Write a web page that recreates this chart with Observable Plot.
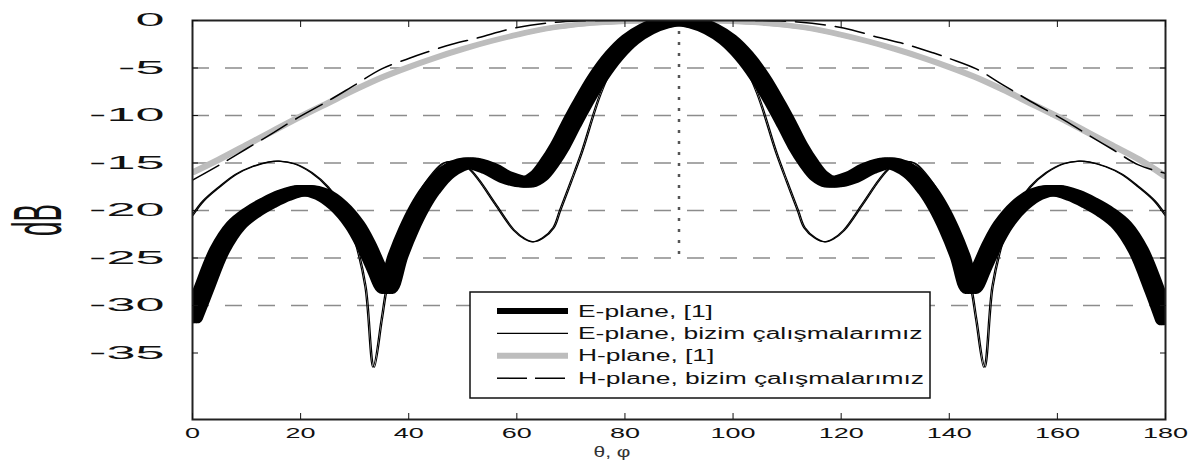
<!DOCTYPE html>
<html>
<head>
<meta charset="utf-8">
<script src="https://cdn.jsdelivr.net/npm/d3@7"></script>
<script src="https://cdn.jsdelivr.net/npm/@observablehq/plot@0.6"></script>
<style>
html, body { margin: 0; padding: 0; background: #fff; }
#wrap { position: relative; width: 1196px; height: 463px; font-family: "Liberation Sans", Arial, sans-serif; }
#wrap > svg { position: absolute; left: 0; top: 0; }
</style>
</head>
<body>
<div id="wrap"></div>
<script>
// ---------- data ----------
const thetaE1 = [0, 2, 5, 8, 11, 14, 17, 20.5, 24, 27, 30, 32, 34, 36, 38, 40, 42, 44, 47, 51, 55, 58, 62, 64, 66, 68, 70, 72, 75, 78, 81, 84, 87, 90,
  93, 96, 99, 102, 105, 108, 110, 112, 114, 116, 118, 122, 125, 129, 133, 136, 138, 140, 142, 144, 146, 148, 150, 153, 156, 159.5, 163, 166, 169, 172, 175, 178, 180];
const dbE1 = [-31.3, -28.4, -24.2, -21.6, -20.2, -19.2, -18.4, -17.9, -18.3, -19.5, -21.5, -23.5, -26, -28.2, -24.8, -22, -19.7, -17.9, -16, -15, -15.6, -16.5, -17, -16.4, -15, -13.2, -11, -8.9, -6.0, -3.7, -2.0, -0.9, -0.25, 0,
  -0.25, -0.9, -2.0, -3.7, -6.0, -8.9, -11, -13.2, -15, -16.4, -17, -16.5, -15.6, -15, -16, -17.9, -19.7, -22, -24.8, -28.2, -26, -23.5, -21.5, -19.5, -18.3, -17.9, -18.4, -19.2, -20.2, -21.6, -24.2, -28.4, -31.5];

const thetaE2 = [0, 2, 5, 8, 11, 14, 16, 19, 22, 25, 28, 30, 32, 33.5, 35, 36, 38, 40, 43, 46.5, 49, 51, 53, 56, 59.5, 61.5, 63, 64.8, 66.8, 68, 70, 72, 75.5, 78.6, 82.3, 86, 90,
  94, 97.7, 101.4, 104.5, 108, 110, 112, 113.2, 115.2, 117, 118.5, 120.5, 124, 127, 129, 131, 133.5, 137, 140, 142, 144, 145, 146.5, 148, 150, 152, 155, 158, 161, 164, 166, 169, 172, 175, 178, 180];
const dbE2 = [-20.5, -19, -17.5, -16.2, -15.4, -14.9, -14.8, -15.1, -16, -17.5, -20, -23, -28, -36.5, -31.5, -28, -24, -20.5, -17.2, -15, -14.9, -15.5, -16.8, -19.3, -22.1, -23.0, -23.3, -22.9, -21.8, -20, -17, -13.9, -7.7, -3.9, -1.4, -0.3, 0,
  -0.3, -1.4, -3.9, -7.7, -13.9, -17, -20, -21.8, -22.9, -23.3, -23.0, -22.1, -19.3, -16.8, -15.5, -14.9, -15, -17.2, -20.5, -24, -28, -31.5, -36.5, -28, -23, -20, -17.5, -16, -15.1, -14.8, -14.9, -15.4, -16.2, -17.5, -19, -20.5];

const thetaH1 = [0, 5, 10, 15, 19, 25, 30, 35, 40, 45, 50, 55, 60, 65, 70, 75, 80, 85, 90, 95, 100, 105, 110, 115, 120, 125, 130, 135, 140, 145, 150, 155, 161, 165, 170, 175, 180];
const dbH1 = [-16, -14.6, -13.1, -11.6, -10.4, -8.7, -7.3, -6.0, -4.9, -3.9, -3.0, -2.2, -1.5, -0.9, -0.5, -0.25, -0.1, -0.02, 0, -0.02, -0.1, -0.25, -0.5, -0.9, -1.5, -2.2, -3.0, -3.9, -4.9, -6.0, -7.3, -8.7, -10.4, -11.6, -13.1, -14.6, -16.4];

const thetaH2 = [0, 5, 10, 15, 19, 25, 30, 35, 40, 43, 48, 53, 58, 62.5, 68, 75, 90, 105, 112, 117.5, 122, 127, 132, 137, 140, 145, 150, 155, 161, 165, 170, 175, 180];
const dbH2 = [-16.8, -15.2, -13.5, -11.8, -10.4, -8.5, -6.8, -5.1, -4.0, -3.4, -2.5, -1.8, -1.0, -0.5, -0.15, 0, 0, 0, -0.15, -0.5, -1.0, -1.8, -2.5, -3.4, -4.0, -5.1, -6.8, -8.5, -10.4, -11.8, -13.5, -15.2, -16.1];

const xTicks = [0, 20, 40, 60, 80, 100, 120, 140, 160, 180];
const yTicks = [0, -5, -10, -15, -20, -25, -30, -35];
const gridValues = [-5, -10, -15, -20, -25, -30];
const xDomain = [0, 180];
const yDomain = [-42, 0];
const boresight = [{theta: 90, top: 0, bottom: -25}];
const xLabel = "θ, φ";
const yLabel = "dB";
const legendLabels = ["E-plane, [1]", "E-plane, bizim çalışmalarımız", "H-plane, [1]", "H-plane, bizim çalışmalarımız"];

// ---------- build ----------
const rows = (t, d) => t.map((v, i) => ({theta: v, db: d[i]}));
const e1 = rows(thetaE1, dbE1);
const e2 = rows(thetaE2, dbE2);
const h1 = rows(thetaH1, dbH1);
const h2 = rows(thetaH2, dbH2);

const FONT = '"Liberation Sans", Arial, Helvetica, sans-serif';
const CURVE = "catmull-rom";

const svg = Plot.plot({
  width: 1196,
  height: 463,
  marginLeft: 192,
  marginRight: 31,
  marginTop: 20,
  marginBottom: 44,
  style: {fontFamily: FONT, fontSize: "18px", color: "#111", background: "transparent", overflow: "visible"},
  x: {domain: xDomain, label: null},
  y: {domain: yDomain, label: null},
  marks: [
    Plot.gridY(gridValues, {stroke: "#8c8c8c", strokeOpacity: 1, strokeWidth: 1.5, strokeDasharray: "17,16"}),
    Plot.ruleX(boresight, {x: "theta", y1: "top", y2: "bottom", stroke: "#555", strokeWidth: 2.5, strokeDasharray: "3,8"}),
    ...[-1.5, 1.5].map(dx => Plot.line(h1, {x: "theta", y: "db", stroke: "#bdbdbd", strokeWidth: 5, dx, curve: CURVE, clip: true})),
    Plot.line(h2, {x: "theta", y: "db", stroke: "#000", strokeWidth: 1.5, strokeDasharray: "30,10", curve: CURVE, clip: true}),
    ...[-5, -2.5, 0, 2.5, 5].map(dx => Plot.line(e1, {x: "theta", y: "db", stroke: "#000", strokeWidth: 11, dx, curve: CURVE, clip: true})),
    ...[-0.7, 0.7].map(dx => Plot.line(e2, {x: "theta", y: "db", stroke: "#000", strokeWidth: 1.2, dx, curve: CURVE, clip: true})),
    Plot.frame({stroke: "#222", strokeWidth: 2}),
    Plot.axisX(xTicks, {anchor: "bottom", tickSize: 0, tickPadding: 8, fontSize: 15, label: null}),
    Plot.axisX(xTicks, {anchor: "bottom", tickSize: -6, tickFormat: () => "", label: null}),
    Plot.axisX(xTicks, {anchor: "top", tickSize: -6, tickFormat: () => "", label: null}),
    Plot.axisY(yTicks, {anchor: "left", tickSize: 0, tickPadding: 28, tickFormat: d => String(d), fontSize: 18, label: null}),
    Plot.axisY(yTicks, {anchor: "left", tickSize: -6, tickFormat: () => "", label: null}),
    Plot.axisY(yTicks, {anchor: "right", tickSize: -6, tickFormat: () => "", label: null}),
    Plot.text([yLabel], {text: d => d, frameAnchor: "left", dx: -153, rotate: -90, fontSize: 26, textAnchor: "middle", lineAnchor: "middle", fill: "#111"}),
    Plot.text([xLabel], {text: d => d, frameAnchor: "bottom", dx: -67, dy: 33, fontSize: 14, textAnchor: "middle", lineAnchor: "middle", fill: "#333"})
  ]
});

// horizontal stretch of text (the reference is stretched horizontally)
function stretch(t, s) {
  let tr = t.getAttribute("transform");
  if (!tr) {
    const x = +t.getAttribute("x") || 0, y = +t.getAttribute("y") || 0;
    t.setAttribute("x", 0); t.setAttribute("y", 0);
    tr = `translate(${x},${y})`;
  }
  if (/rotate\(/.test(tr)) tr = tr.replace(/rotate\(/, `scale(${s},1) rotate(`);
  else tr = tr + ` scale(${s},1)`;
  t.setAttribute("transform", tr);
}
svg.querySelectorAll("text").forEach(t => {
  const txt = t.textContent;
  if (txt === "") return;
  const g = t.closest("g[aria-label]");
  const lab = g ? g.getAttribute("aria-label") : "";
  if (txt === yLabel) stretch(t, 2.6);
  else if (txt === xLabel) stretch(t, 1.5);
  else if (/y-axis/.test(lab)) stretch(t, 2.9);
  else if (/x-axis/.test(lab)) stretch(t, 1.8);
});

const wrap = document.getElementById("wrap");
wrap.appendChild(svg);

// legend (inside the plot frame, white box)
const legendItems = [
  {label: legendLabels[0], stroke: "#000", width: 6, dash: null},
  {label: legendLabels[1], stroke: "#000", width: 1.3, dash: null},
  {label: legendLabels[2], stroke: "#bdbdbd", width: 6, dash: null},
  {label: legendLabels[3], stroke: "#000", width: 1.5, dash: "30,8"}
];
const lg = d3.select(wrap).append("svg")
  .attr("width", 464).attr("height", 110)
  .style("left", "469px").style("top", "291px");
lg.append("rect").attr("x", 1).attr("y", 1).attr("width", 460).attr("height", 106)
  .attr("fill", "#fff").attr("stroke", "#111").attr("stroke-width", 1.5);
const row = lg.selectAll("g.row").data(legendItems).join("g")
  .attr("transform", (d, i) => `translate(0,${20 + i * 22.4})`);
row.append("line").attr("x1", 28).attr("x2", 99).attr("y1", 0).attr("y2", 0)
  .attr("stroke", d => d.stroke).attr("stroke-width", d => d.width)
  .attr("stroke-dasharray", d => d.dash);
row.append("text").attr("transform", "translate(109,0) scale(1.65,1)")
  .attr("dy", "0.35em").attr("font-size", 16).attr("font-family", FONT).attr("fill", "#111")
  .text(d => d.label);
</script>
</body>
</html>
